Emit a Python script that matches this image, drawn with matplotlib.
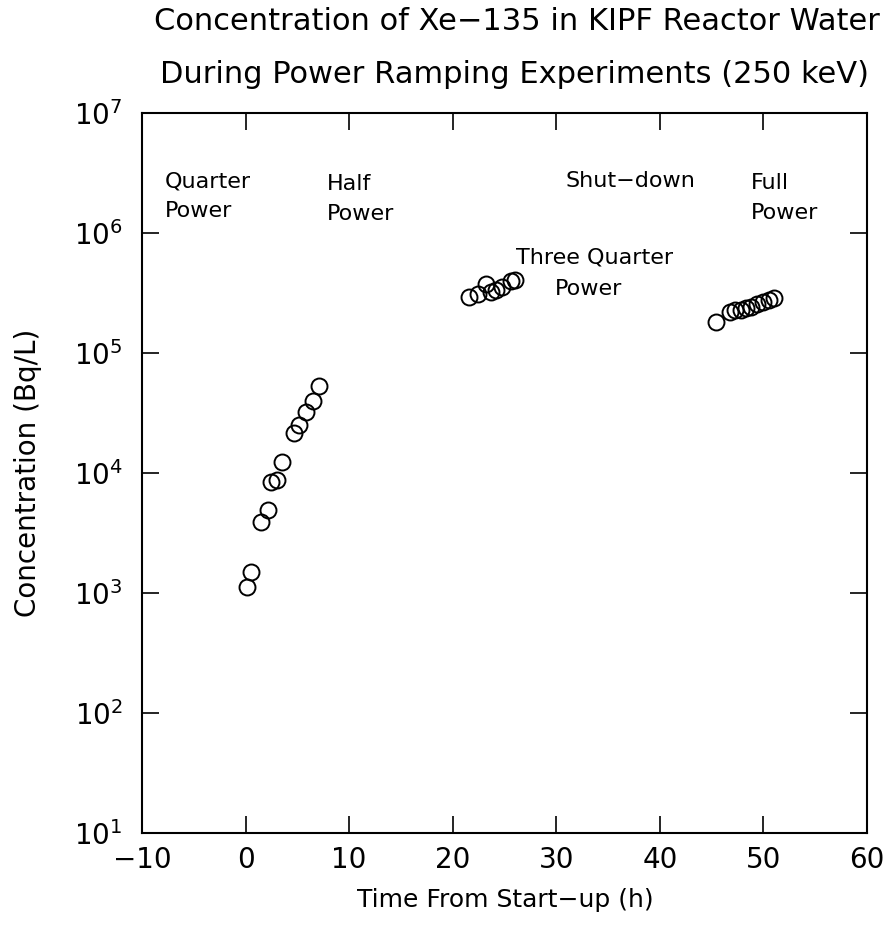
import matplotlib
matplotlib.use("Agg")
import matplotlib.pyplot as plt
import numpy as np
from matplotlib.ticker import FixedLocator, FuncFormatter, NullLocator

plt.rcParams['font.family'] = 'DejaVu Sans'

# Xe-135 measurements, time from start-up (h) and concentration (Bq/L)
quarter_half_t = [0.1, 0.5, 1.5, 2.2, 2.5, 3.0, 3.5, 4.7, 5.2, 5.8, 6.5, 7.1]
quarter_half_c = [1.12e3, 1.5e3, 3.9e3, 4.9e3, 8.4e3, 8.8e3, 1.24e4, 2.15e4, 2.5e4, 3.2e4, 4.0e4, 5.3e4]

three_quarter_t = [21.6, 22.4, 23.2, 23.7, 24.2, 24.8, 25.6, 26.0]
three_quarter_c = [2.94e5, 3.13e5, 3.75e5, 3.24e5, 3.34e5, 3.56e5, 3.98e5, 4.05e5]

full_t = [45.4, 46.8, 47.3, 47.8, 48.3, 48.8, 49.4, 50.0, 50.5, 51.0]
full_c = [1.82e5, 2.2e5, 2.28e5, 2.3e5, 2.35e5, 2.43e5, 2.55e5, 2.67e5, 2.79e5, 2.9e5]

x_ticks = [-10, 0, 10, 20, 30, 40, 50, 60]
y_ticks = [1e1, 1e2, 1e3, 1e4, 1e5, 1e6, 1e7]

fig = plt.figure(figsize=(8.94, 9.49), dpi=100)
ax = fig.add_axes([0.1588, 0.1222, 0.811, 0.7587])

t_all = quarter_half_t + three_quarter_t + full_t
c_all = quarter_half_c + three_quarter_c + full_c
ax.plot(t_all, c_all, linestyle='none', marker='o', markersize=11.5,
        markerfacecolor='none', markeredgecolor='black', markeredgewidth=1.4)

ax.set_yscale('log')
ax.set_xlim(-10, 60)
ax.set_ylim(1e1, 1e7)

ax.xaxis.set_major_locator(FixedLocator(x_ticks))
ax.yaxis.set_major_locator(FixedLocator(y_ticks))
ax.yaxis.set_minor_locator(NullLocator())
ax.xaxis.set_minor_locator(NullLocator())
ax.xaxis.set_major_formatter(FuncFormatter(lambda v, p: f"{v:.0f}".replace('-', '\u2212')))
ax.yaxis.set_major_formatter(FuncFormatter(lambda v, p: r"$\mathregular{10^{%d}}$" % round(np.log10(v))))

ax.tick_params(axis='both', which='major', direction='in', length=12, width=1.2,
               top=True, right=True, labelsize=20, pad=9)
ax.tick_params(axis='y', pad=14)
for s in ax.spines.values():
    s.set_linewidth(1.5)

fig.text(0.565, 0.0516, "Time From Start\u2212up (h)", fontsize=18, ha='center', va='center')
fig.text(0.031, 0.5016, "Concentration (Bq/L)", fontsize=20, ha='center', va='center',
         rotation=90)

fig.text(0.578, 0.977, "Concentration of Xe\u2212135 in KIPF Reactor Water",
         fontsize=22, ha='center', va='center')
fig.text(0.575, 0.921, "During Power Ramping Experiments (250 keV)",
         fontsize=22, ha='center', va='center')

# phase labels
note = dict(fontsize=16, ha='left', va='center', linespacing=1.6)
ax.text(-7.8, 10**6.306, "Quarter\nPower", **note)
ax.text(7.9, 10**6.286, "Half\nPower", **note)
ax.text(30.9, 10**6.43, "Shut\u2212down", **note)
ax.text(48.8, 10**6.294, "Full\nPower", **note)
ax.text(26.1, 10**5.80, "Three Quarter", **note)
ax.text(29.9, 10**5.53, "Power", **note)

fig.savefig("out.png", dpi=100)
